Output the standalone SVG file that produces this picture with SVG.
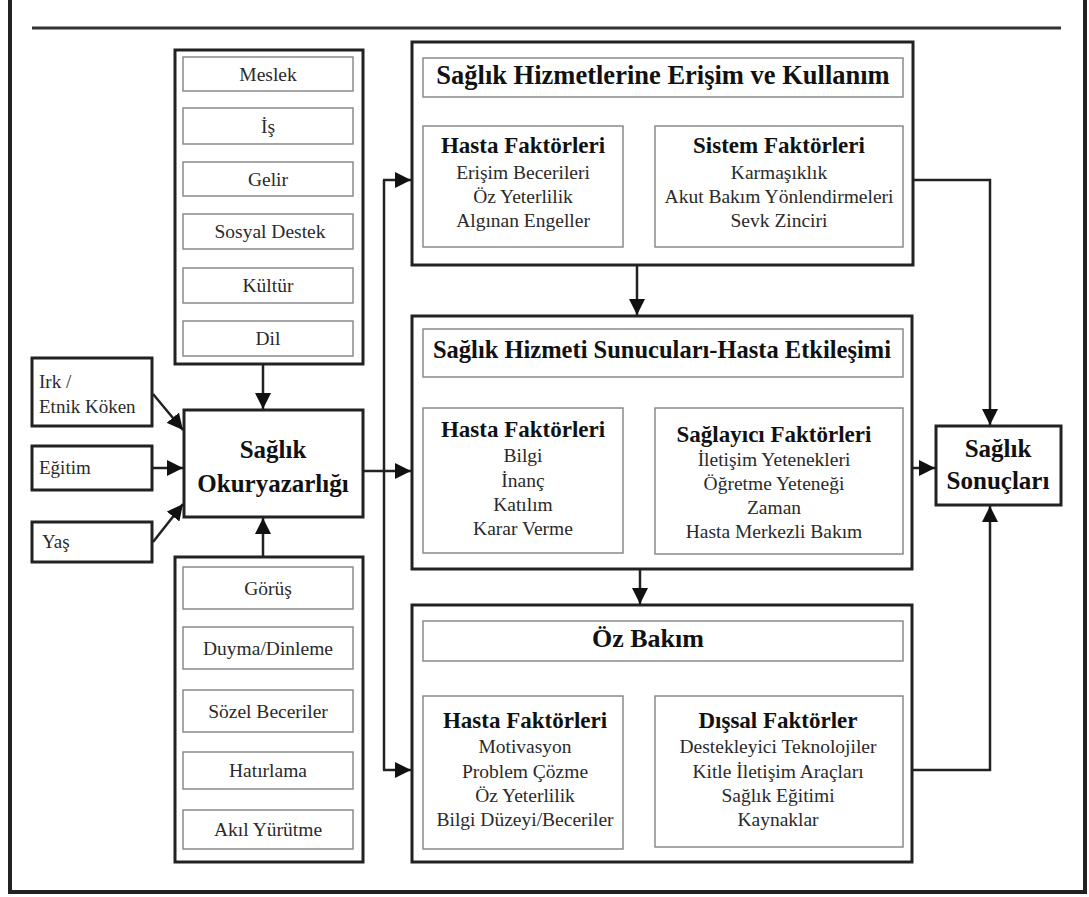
<svg xmlns="http://www.w3.org/2000/svg" width="1089" height="897" viewBox="0 0 1089 897">
<style>
.frame{fill:none;stroke:#222;stroke-width:4}
.outer{fill:#fff;stroke:#222;stroke-width:3}
.inner{fill:#fff;stroke:#8a8a8a;stroke-width:1.5}
.conn{fill:none;stroke:#222;stroke-width:2.5}
text{font-family:'Liberation Serif',Tinos,'Times New Roman','DejaVu Serif',serif;fill:#2a2a2a;text-anchor:middle}
.r{font-size:19.5px}
.rl{font-size:19px;text-anchor:start}
.b{font-weight:bold;fill:#111}
.bs{font-size:23px}
.bl{font-size:25px}
</style>
<defs>
<marker id="ah" markerUnits="userSpaceOnUse" markerWidth="16" markerHeight="16" viewBox="0 0 16 16" refX="16" refY="8" orient="auto">
<path d="M0,0 L16,8 L0,16 z" fill="#111"/>
</marker>
</defs>

<g id="frame">
<path class="frame" d="M10,0 V892 H1085 V0"/>
<line x1="32" y1="28" x2="1061" y2="28" stroke="#333" stroke-width="3"/>
</g>

<g id="sosyal-faktorler">
<rect class="outer" x="175" y="50" width="188" height="314"/>
<rect class="inner" x="183" y="57" width="170" height="34"/>
<text class="r" x="268" y="81">Meslek</text>
<rect class="inner" x="183" y="108" width="170" height="36"/>
<text class="r" x="268" y="133">İş</text>
<rect class="inner" x="183" y="162" width="170" height="34"/>
<text class="r" x="268" y="186">Gelir</text>
<rect class="inner" x="183" y="214" width="170" height="35"/>
<text class="r" x="270" y="238">Sosyal Destek</text>
<rect class="inner" x="183" y="268" width="170" height="35"/>
<text class="r" x="268" y="292">Kültür</text>
<rect class="inner" x="183" y="321" width="170" height="35"/>
<text class="r" x="268" y="345">Dil</text>
</g>

<g id="bilissel-faktorler">
<rect class="outer" x="175" y="557" width="188" height="305"/>
<rect class="inner" x="183" y="567" width="170" height="42"/>
<text class="r" x="268" y="595">Görüş</text>
<rect class="inner" x="183" y="627" width="170" height="42"/>
<text class="r" x="268" y="655">Duyma/Dinleme</text>
<rect class="inner" x="183" y="690" width="170" height="42"/>
<text class="r" x="268" y="718">Sözel Beceriler</text>
<rect class="inner" x="183" y="752" width="170" height="37"/>
<text class="r" x="268" y="777">Hatırlama</text>
<rect class="inner" x="183" y="810" width="170" height="39"/>
<text class="r" x="268" y="836">Akıl Yürütme</text>
</g>

<g id="irk">
<rect class="outer" x="32" y="358" width="120" height="68"/>
<text class="rl" x="39" y="388">Irk /</text>
<text class="rl" x="39" y="413">Etnik Köken</text>
</g>
<g id="egitim">
<rect class="outer" x="32" y="446" width="120" height="44"/>
<text class="rl" x="39" y="474">Eğitim</text>
</g>
<g id="yas">
<rect class="outer" x="32" y="522" width="120" height="40"/>
<text class="rl" x="42" y="548">Yaş</text>
</g>

<g id="saglik-okuryazarligi">
<rect class="outer" x="184" y="410" width="179" height="107"/>
<text class="b bl" x="273" y="458">Sağlık</text>
<text class="b bl" x="273" y="492">Okuryazarlığı</text>
</g>

<g id="erisim-kullanim">
<rect class="outer" x="412" y="42" width="501" height="223"/>
<rect class="inner" x="423" y="58" width="480" height="39"/>
<text class="b" x="663" y="84" font-size="26.5px">Sağlık Hizmetlerine Erişim ve Kullanım</text>
<rect class="inner" x="423" y="126" width="200" height="121"/>
<text class="b bs" x="523" y="153">Hasta Faktörleri</text>
<text class="r" x="523" y="179">Erişim Becerileri</text>
<text class="r" x="523" y="203">Öz Yeterlilik</text>
<text class="r" x="523" y="227">Algınan Engeller</text>
<rect class="inner" x="655" y="126" width="248" height="121"/>
<text class="b bs" x="779" y="153">Sistem Faktörleri</text>
<text class="r" x="779" y="179">Karmaşıklık</text>
<text class="r" x="779" y="203">Akut Bakım Yönlendirmeleri</text>
<text class="r" x="779" y="227">Sevk Zinciri</text>
</g>

<g id="saglayici-hasta-etkilesimi">
<rect class="outer" x="412" y="316" width="500" height="253"/>
<rect class="inner" x="423" y="329" width="480" height="48"/>
<text class="b" x="662" y="358" font-size="24.5px">Sağlık Hizmeti Sunucuları-Hasta Etkileşimi</text>
<rect class="inner" x="423" y="408" width="200" height="145"/>
<text class="b bs" x="523" y="437">Hasta Faktörleri</text>
<text class="r" x="523" y="462">Bilgi</text>
<text class="r" x="523" y="487">İnanç</text>
<text class="r" x="523" y="511">Katılım</text>
<text class="r" x="523" y="535">Karar Verme</text>
<rect class="inner" x="655" y="408" width="248" height="146"/>
<text class="b bs" x="774" y="442">Sağlayıcı Faktörleri</text>
<text class="r" x="774" y="466">İletişim Yetenekleri</text>
<text class="r" x="774" y="490">Öğretme Yeteneği</text>
<text class="r" x="774" y="514">Zaman</text>
<text class="r" x="774" y="538">Hasta Merkezli Bakım</text>
</g>

<g id="oz-bakim">
<rect class="outer" x="412" y="605" width="500" height="257"/>
<rect class="inner" x="423" y="621" width="480" height="40"/>
<text class="b" x="648" y="647" font-size="26px">Öz Bakım</text>
<rect class="inner" x="423" y="696" width="200" height="153"/>
<text class="b bs" x="525" y="728">Hasta Faktörleri</text>
<text class="r" x="525" y="753">Motivasyon</text>
<text class="r" x="525" y="778">Problem Çözme</text>
<text class="r" x="525" y="802">Öz Yeterlilik</text>
<text class="r" x="525" y="826">Bilgi Düzeyi/Beceriler</text>
<rect class="inner" x="655" y="696" width="248" height="151"/>
<text class="b bs" x="778" y="728">Dışsal Faktörler</text>
<text class="r" x="778" y="753">Destekleyici Teknolojiler</text>
<text class="r" x="778" y="778">Kitle İletişim Araçları</text>
<text class="r" x="778" y="802">Sağlık Eğitimi</text>
<text class="r" x="778" y="826">Kaynaklar</text>
</g>

<g id="saglik-sonuclari">
<rect class="outer" x="936" y="426" width="125" height="79"/>
<text class="b bl" x="998" y="457">Sağlık</text>
<text class="b bl" x="998" y="489">Sonuçları</text>
</g>

<g id="connectors">
<path class="conn" d="M263,364 V409" marker-end="url(#ah)"/>
<path class="conn" d="M263,557 V518" marker-end="url(#ah)"/>
<path class="conn" d="M153,394 L183,430" marker-end="url(#ah)"/>
<path class="conn" d="M152,468 H183" marker-end="url(#ah)"/>
<path class="conn" d="M153,542 L183,504" marker-end="url(#ah)"/>
<path class="conn" d="M363,471 H411" marker-end="url(#ah)"/>
<path class="conn" d="M384,180 V770"/>
<path class="conn" d="M383,180 H411" marker-end="url(#ah)"/>
<path class="conn" d="M383,770 H411" marker-end="url(#ah)"/>
<path class="conn" d="M637,265 V315" marker-end="url(#ah)"/>
<path class="conn" d="M640,569 V604" marker-end="url(#ah)"/>
<path class="conn" d="M913,180 H990 V425" marker-end="url(#ah)"/>
<path class="conn" d="M912,468 H935" marker-end="url(#ah)"/>
<path class="conn" d="M912,770 H990 V506" marker-end="url(#ah)"/>
</g>
</svg>
